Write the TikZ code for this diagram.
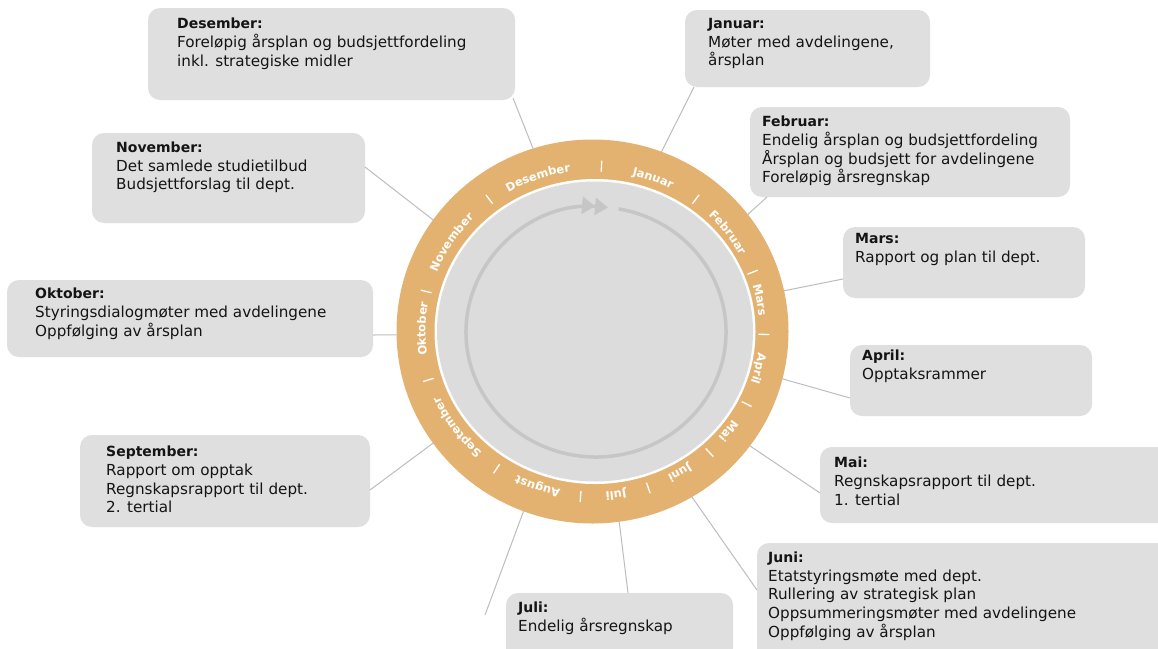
\documentclass[tikz,border=0pt]{standalone}
\usepackage{fontspec}
\setmainfont{DejaVu Sans}
\usepackage{tikz}
\usetikzlibrary{shapes.geometric,arrows.meta,calc,decorations.text}

\definecolor{ringorange}{HTML}{E3B270}
\definecolor{boxgray}{HTML}{DFDFDF}
\definecolor{diskgray}{HTML}{DCDCDC}
\definecolor{arcgray}{HTML}{C6C6C6}
\definecolor{linegray}{HTML}{BDBDBD}

\newcommand{\ringfont}{\fontsize{11.5}{12}\selectfont\bfseries}
\newcommand{\boxhead}[1]{{\fontsize{14}{18.7}\selectfont\bfseries #1}}
\newcommand{\monthlabel}[2]{%
  \path[decorate, decoration={text along path, text align=center, text color=white, text={|\ringfont|#2}}]
    ($(ring.center)+({#1+25}:167 and 161)$) arc[start angle={#1+25}, end angle={#1-25}, x radius=167, y radius=161];}

\tikzset{
  box/.style={fill=boxgray, rounded corners=12pt, inner sep=0pt, outer sep=0pt, anchor=north west},
  txt/.style={anchor=north west, inner sep=0pt, align=left, text=black!92, font=\fontsize{15.2}{18.7}\selectfont},
  conn/.style={draw=linegray, line width=1pt},
  tick/.style={draw=white, line width=1.3pt}
}

\begin{document}
\begin{tikzpicture}[x=1pt, y=1pt]
  % Page
  \path[fill=white, use as bounding box] (0,0) rectangle (1158,-648);

  % Draw the year wheel
  \node[ellipse, fill=ringorange, minimum width=392, minimum height=384, inner sep=0pt, outer sep=0pt] (ring) at (592.5,-331.5) {};
  \fill[white] (595,-331.5) ellipse [x radius=160.5, y radius=152.5];
  \fill[diskgray] (595,-331.5) ellipse [x radius=158, y radius=150];

  % Inner arrow going round
  \draw[arcgray, line width=3.5pt, -{Triangle[length=13pt,width=17pt,sep=0pt] Triangle[length=13pt,width=17pt,sep=0pt]}]
    ($(ring.center)+(3.5,-0.5)+(80:130 and 125)$) arc[start angle=80, end angle=-275.3, x radius=130, y radius=125];

  % Month names on the ring
  \monthlabel{109}{Desember}
  \monthlabel{69}{Januar}
  \monthlabel{37}{Februar}
  \monthlabel{11}{Mars}
  \monthlabel{-13}{April}
  \monthlabel{-37}{Mai}
  \monthlabel{-59}{Juni}
  \monthlabel{-82}{Juli}
  \monthlabel{-109}{August}
  \monthlabel{-144}{September}
  \monthlabel{179}{Oktober}
  \monthlabel{147}{November}

  % Separators between the months
  \foreach \a in {87,53,21,-1,-26,-47,-71,-94,-124,-163,166,127}
    \draw[tick] ($(ring.center)+(\a:166 and 160)$) -- ($(ring.center)+(\a:177 and 171)$);

  % Boxes
  \node[box, minimum width=367, minimum height=92] (dec) at (148,-8) {};
  \node[box, minimum width=245, minimum height=77] (jan) at (685,-10) {};
  \node[box, minimum width=320, minimum height=90] (feb) at (750,-107) {};
  \node[box, minimum width=242, minimum height=71] (mars) at (843,-227) {};
  \node[box, minimum width=242, minimum height=71] (apr) at (850,-345) {};
  \node[box, minimum width=350, minimum height=76] (mai) at (820,-447) {};
  \node[box, minimum width=413, minimum height=117] (jun) at (757,-543) {};
  \node[box, minimum width=227, minimum height=67] (jul) at (506,-593) {};
  \node[box, minimum width=290, minimum height=92] (sep) at (80,-435) {};
  \node[box, minimum width=366, minimum height=77] (okt) at (7,-280) {};
  \node[box, minimum width=273, minimum height=90] (nov) at (92,-133) {};

  % Texts in the boxes
  \node[txt] (dectxt) at (177,-18) {\boxhead{Desember:}\\Foreløpig årsplan og budsjettfordeling\\inkl. strategiske midler};
  \node[txt] (jantxt) at (708,-18) {\boxhead{Januar:}\\Møter med avdelingene,\\årsplan};
  \node[txt] (febtxt) at (762,-116) {\boxhead{Februar:}\\Endelig årsplan og budsjettfordeling\\Årsplan og budsjett for avdelingene\\Foreløpig årsregnskap};
  \node[txt] (marstxt) at (855,-233) {\boxhead{Mars:}\\Rapport og plan til dept.};
  \node[txt] (aprtxt) at (862,-350) {\boxhead{April:}\\Opptaksrammer};
  \node[txt] (maitxt) at (834,-457) {\boxhead{Mai:}\\Regnskapsrapport til dept.\\1. tertial};
  \node[txt] (juntxt) at (768,-551.5) {\boxhead{Juni:}\\Etatstyringsmøte med dept.\\Rullering av strategisk plan\\Oppsummeringsmøter med avdelingene\\Oppfølging av årsplan};
  \node[txt] (jultxt) at (518,-601.5) {\boxhead{Juli:}\\Endelig årsregnskap};
  \node[txt] (septxt) at (106,-446) {\boxhead{September:}\\Rapport om opptak\\Regnskapsrapport til dept.\\2. tertial};
  \node[txt] (okttxt) at (35,-288) {\boxhead{Oktober:}\\Styringsdialogmøter med avdelingene\\Oppfølging av årsplan};
  \node[txt] (novtxt) at (116,-141.5) {\boxhead{November:}\\Det samlede studietilbud\\Budsjettforslag til dept.};

  % Connectors from the ring to the boxes
  \coordinate (augend) at (485,-615);
  \draw[conn] (ring.108) -- ($(dec.south east)+(-2,2)$);
  \draw[conn] (ring.69) -- ($(jan.south west)+(9,0)$);
  \draw[conn] (ring.37) -- ($(feb.south west)+(17,0)$);
  \draw[conn] (ring.12) -- ($(mars.south west)+(0,19)$);
  \draw[conn] (ring.-14) -- ($(apr.south west)+(0,18)$);
  \draw[conn] (ring.-36) -- ($(mai.west)+(0,-8)$);
  \draw[conn] (ring.-59) -- ($(jun.north west)+(0,-47)$);
  \draw[conn] (ring.-82) -- ($(jul.north west)+(122,0)$);
  \draw[conn] (ring.-111) -- (augend);
  \draw[conn] (ring.-145) -- ($(sep.east)+(0,-9)$);
  \draw[conn] (ring.181) -- ($(okt.south east)+(0,22)$);
  \draw[conn] (ring.145) -- ($(nov.north east)+(0,-34)$);
\end{tikzpicture}
\end{document}
